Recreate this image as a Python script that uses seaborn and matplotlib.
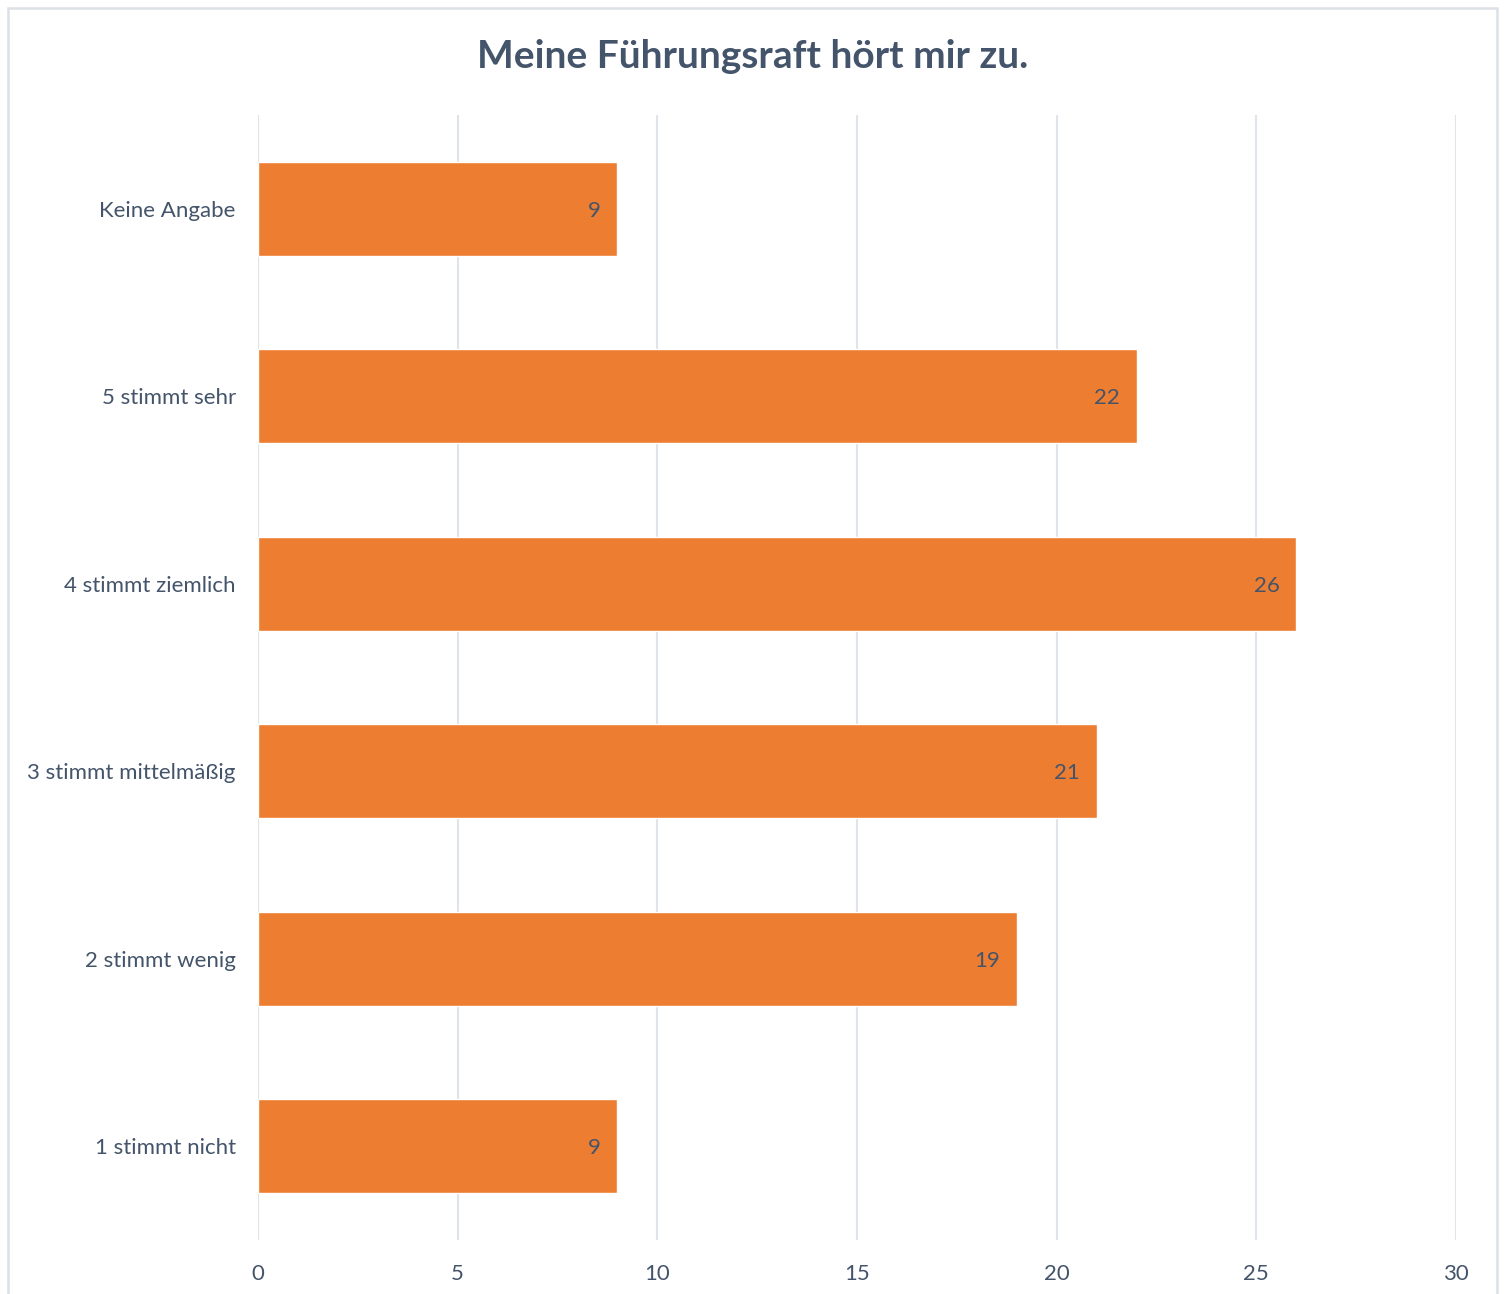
import matplotlib
matplotlib.use('Agg')
import matplotlib.pyplot as plt
from matplotlib.patches import Rectangle
import seaborn as sns
import pandas as pd

# values, top to bottom
categories = ["Keine Angabe", "5 stimmt sehr", "4 stimmt ziemlich",
              "3 stimmt mittelmäßig", "2 stimmt wenig", "1 stimmt nicht"]
counts = [9, 22, 26, 21, 19, 9]
x_ticks = [0, 5, 10, 15, 20, 25, 30]

df = pd.DataFrame({"antwort": categories, "anzahl": counts})

text_col = "#44546A"
bar_col = "#ED7D31"
grid_col = "#DFE3EA"

sns.set_theme(style="white")
plt.rcParams['font.family'] = ['Lato', 'DejaVu Sans']

fig = plt.figure(figsize=(15.05, 12.94), dpi=100)
ax = fig.add_axes([258 / 1505, 1 - 1240 / 1294, (1456 - 258) / 1505, (1240 - 115) / 1294])

sns.barplot(data=df, x="anzahl", y="antwort", order=categories,
            color=bar_col, saturation=1, width=0.5, ax=ax, zorder=3)

ax.set_xlim(0, 30)
ax.set_ylim(5.5, -0.5)
ax.set_xticks(x_ticks)
ax.xaxis.grid(True, color=grid_col, linewidth=1.5, zorder=0)
ax.yaxis.grid(False)
for s in ax.spines.values():
    s.set_visible(False)
ax.tick_params(axis='both', length=0, labelsize=16, labelcolor=text_col)
ax.tick_params(axis='y', pad=16)
ax.tick_params(axis='x', pad=17)
ax.set_xlabel("")
ax.set_ylabel("")

# value labels inside the bar end
for patch, val in zip(ax.patches, counts):
    ax.annotate(str(val), (patch.get_width(), patch.get_y() + patch.get_height() / 2),
                xytext=(-12, -1.5), textcoords="offset points",
                ha="right", va="center", fontsize=16, color=text_col, zorder=4)

fig.text(0.5, 1 - 57 / 1294, "Meine Führungsraft hört mir zu.", ha="center", va="center",
         fontsize=28, fontweight="bold", color=text_col)

# light frame around the chart
fig.patches.append(Rectangle((8 / 1505, -0.05), (1497 - 8) / 1505, 1.05 - 8 / 1294,
                             transform=fig.transFigure, fill=False,
                             edgecolor="#DCE1E8", linewidth=1.8))

fig.savefig("out.png", dpi=100, facecolor="white")
